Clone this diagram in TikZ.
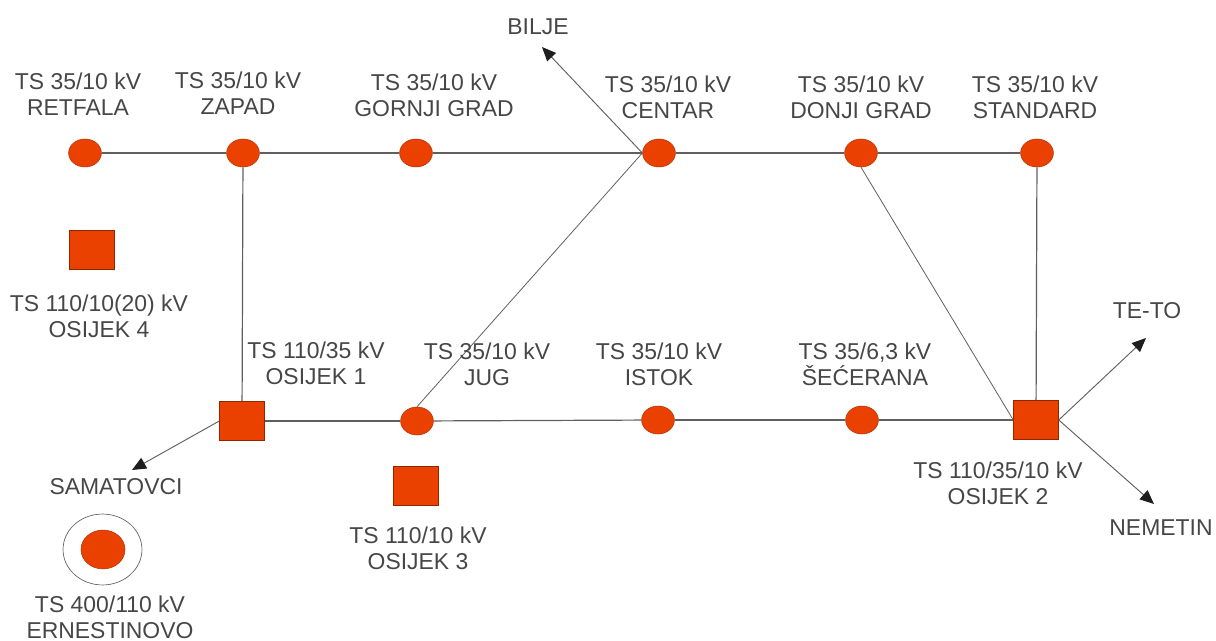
\documentclass[tikz,border=0pt]{standalone}
\usepackage{fontspec}
\setmainfont{Liberation Sans}
\usetikzlibrary{arrows.meta,shapes.geometric}
\definecolor{stationred}{RGB}{235,65,0}
\definecolor{lineshade}{RGB}{95,95,95}
\definecolor{labelgray}{RGB}{70,70,70}
\definecolor{tipblack}{RGB}{30,30,30}
\tikzset{
  stationdot/.style={ellipse, fill=stationred, draw=stationred!75!black, line width=0.4pt,
    inner sep=0pt, minimum width=24.6pt, minimum height=21pt},
  stationbox/.style={rectangle, fill=stationred, draw=stationred!60!black, line width=0.5pt,
    inner sep=0pt, minimum width=33.6pt, minimum height=29.4pt},
  stationtext/.style={text=labelgray, align=center, inner sep=0pt,
    font=\fontsize{17.2}{19.5}\selectfont},
  feeder/.style={lineshade, line width=0.9pt},
  outfeed/.style={lineshade, line width=0.7pt, -{Triangle[length=10.5pt,width=9pt,color=tipblack]}},
  crosslink/.style={lineshade, line width=0.6pt}
}

\begin{document}
\begin{tikzpicture}[x=0.75pt,y=-0.75pt]
\useasboundingbox (0,0) rectangle (1216,641);

%% -- free ends of the outgoing lines
\coordinate (biljeend) at (542,47);
\coordinate (samatovciend) at (132,470);
\coordinate (tetoend) at (1146,338);
\coordinate (nemetinend) at (1154,504);

%% -- 35/10 kV stations
\foreach \name/\px/\py in {
    retfala/85/153, zapad/243/153, gornji/416/153, centar/659/153,
    donji/861/153, standard/1037/153, jug/417/421, istok/658/420, secerana/862/420}{
  \node[stationdot] (\name) at (\px,\py) {};
}

%% -- 110 kV stations
\foreach \name/\px/\py in {
    osijekcetiri/92/250, osijekjedan/242/421, osijektri/416/486, osijekdva/1036/420}{
  \node[stationbox] (\name) at (\px,\py) {};
}

%% -- 400 kV station
\node[ellipse, draw=lineshade, line width=0.5pt, inner sep=0pt,
      minimum width=59.2pt, minimum height=53.2pt] (ernestinovoring) at (102.5,549.5) {};
\node[stationdot, minimum width=33pt, minimum height=29.2pt] (ernestinovo) at (103,549.5) {};

%% -- lines between stations
\draw[feeder] (retfala) -- (zapad);
\draw[feeder] (zapad) -- (gornji);
\draw[feeder] (gornji) -- (centar);
\draw[feeder] (centar) -- (donji);
\draw[feeder] (donji) -- (standard);
\draw[feeder] (zapad) -- (osijekjedan);
\draw[feeder] (osijekjedan) -- (jug);
\draw[feeder] (jug) -- (istok);
\draw[feeder] (istok) -- (secerana);
\draw[feeder] (secerana) -- (osijekdva);
\draw[crosslink] (jug.north) -- (centar.west);
\draw[crosslink] (donji.south) -- (osijekdva.west);
\draw[feeder] (standard) -- (osijekdva);

%% -- outgoing lines
\draw[outfeed] (centar.west) -- (biljeend);
\draw[outfeed] (osijekjedan.west) -- (samatovciend);
\draw[outfeed] (osijekdva.east) -- (tetoend);
\draw[outfeed] (osijekdva.east) -- (nemetinend);

%% -- station labels
\node[stationtext] (retfalatext) at (78,94) {TS 35/10 kV\\RETFALA};
\node[stationtext] (zapadtext) at (238,93) {TS 35/10 kV\\ZAPAD};
\node[stationtext] (gornjitext) at (434,95) {TS 35/10 kV\\GORNJI GRAD};
\node[stationtext] (centartext) at (668,97) {TS 35/10 kV\\CENTAR};
\node[stationtext] (donjitext) at (861,97) {TS 35/10 kV\\DONJI GRAD};
\node[stationtext] (standardtext) at (1035,97) {TS 35/10 kV\\STANDARD};
\node[stationtext] (cetiritext) at (99,316) {TS 110/10(20) kV\\OSIJEK 4};
\node[stationtext] (jedantext) at (316,363.5) {TS 110/35 kV\\OSIJEK 1};
\node[stationtext] (jugtext) at (487,364) {TS 35/10 kV\\JUG};
\node[stationtext] (istoktext) at (659,364) {TS 35/10 kV\\ISTOK};
\node[stationtext] (seceranatext) at (865,364) {TS 35/6,3 kV\\ŠEĆERANA};
\node[stationtext] (tritext) at (418,548.5) {TS 110/10 kV\\OSIJEK 3};
\node[stationtext] (dvatext) at (998,483.5) {TS 110/35/10 kV\\OSIJEK 2};
\node[stationtext] (ernestinovotext) at (110,617) {TS 400/110 kV\\ERNESTINOVO};

%% -- names at the outgoing lines
\node[stationtext] (biljetext) at (538,27) {BILJE};
\node[stationtext] (samatovcitext) at (116,487) {SAMATOVCI};
\node[stationtext] (tetotext) at (1147,311) {TE-TO};
\node[stationtext] (nemetintext) at (1161,528) {NEMETIN};

\end{tikzpicture}
\end{document}
